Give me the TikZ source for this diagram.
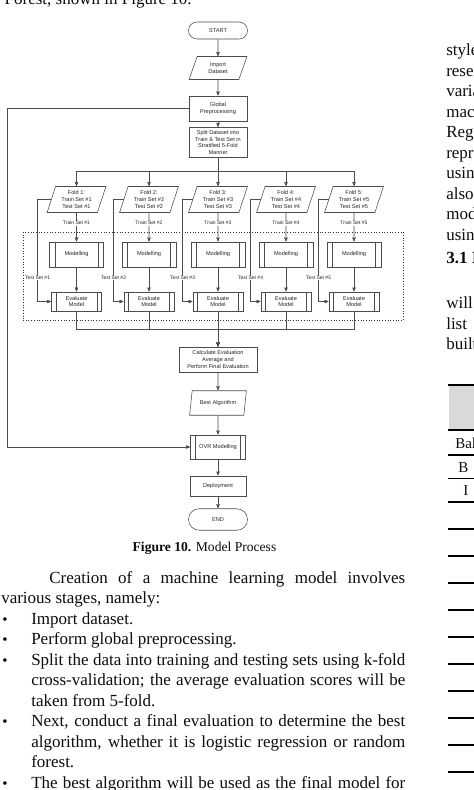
\documentclass[tikz,border=0pt]{standalone}
\usepackage{fontspec}
\setmainfont{Liberation Serif}
\setsansfont{Liberation Sans}
\usetikzlibrary{arrows,shapes.geometric}

\newcommand{\bodysize}{\fontsize{17}{20.5}\selectfont}
\newcommand{\boxsize}{\sffamily\fontsize{5.6}{6.9}\selectfont}
\newcommand{\just}[2]{\makebox[#1pt][s]{#2}}

\begin{document}
\begin{tikzpicture}[x=1pt,y=-1pt,>=stealth',shorten >=0.3pt,
    line width=0.55pt,color=black!70,node distance=40pt,
    main node/.style={rectangle,draw,font=\boxsize,text=black!85,
      align=center,inner sep=0pt,minimum width=58pt,minimum height=25pt},
    term node/.style={main node,rounded corners=8.5pt,minimum width=59pt,
      minimum height=17pt},
    io node/.style={main node,trapezium,trapezium stretches=true,
      trapezium left angle=71,trapezium right angle=109,minimum height=26pt},
    fold node/.style={io node,minimum width=59pt},
    sub node/.style={main node,minimum width=54pt},
    eval node/.style={sub node,minimum width=50pt,minimum height=19pt},
    tag node/.style={fill=white,inner sep=0.6pt,text=black!85,
      font=\sffamily\fontsize{5}{6}\selectfont},
    page text/.style={font=\bodysize,text=black!95,anchor=base west,
      inner sep=0pt},
    dot text/.style={page text,font=\fontsize{15}{17}\selectfont}]

  \useasboundingbox[fill=white] (0,0) rectangle (474,790);

  \node[draw=black!80,dotted,line width=0.7pt,minimum width=380pt,
    minimum height=88pt,inner sep=0pt] (Loop) at (213,276) {};

  \node[term node] (Start) at (218,30.5) {START};
  \node[io node,minimum height=23pt] (Import) [node distance=37.5pt,below of=Start] {Import\\Dataset};
  \node[main node] (Global) [node distance=40.5pt,below of=Import] {Global\\Preprocessing};
  \node[main node,minimum height=30pt] (Split) [node distance=34pt,below of=Global]
    {Split Dataset into\\Train \& Test Set in\\Stratified 5-Fold\\Manner};

  \node[fold node] (Fold3) [node distance=57pt,below of=Split] {Fold 3:\\Train Set \#3\\Test Set \#3};
  \node[fold node] (Fold2) [node distance=69pt,left of=Fold3] {Fold 2:\\Train Set \#2\\Test Set \#2};
  \node[fold node] (Fold1) [node distance=72.5pt,left of=Fold2] {Fold 1:\\Train Set \#1\\Test Set \#1};
  \node[fold node] (Fold4) [node distance=68pt,right of=Fold3] {Fold 4:\\Train Set \#4\\Test Set \#4};
  \node[fold node] (Fold5) [node distance=68pt,right of=Fold4] {Fold 5:\\Train Set \#5\\Test Set \#5};

  \node[sub node] (Model1) [node distance=55pt,below of=Fold1] {Modelling};
  \node[sub node] (Model2) [node distance=55pt,below of=Fold2] {Modelling};
  \node[sub node] (Model3) [node distance=55pt,below of=Fold3] {Modelling};
  \node[sub node] (Model4) [node distance=55pt,below of=Fold4] {Modelling};
  \node[sub node] (Model5) [node distance=55pt,below of=Fold5] {Modelling};

  \node[eval node] (Eval1) [node distance=47pt,below of=Model1] {Evaluate\\Model};
  \node[eval node] (Eval2) [node distance=47pt,below of=Model2] {Evaluate\\Model};
  \node[eval node] (Eval3) [node distance=47pt,below of=Model3] {Evaluate\\Model};
  \node[eval node] (Eval4) [node distance=47pt,below of=Model4] {Evaluate\\Model};
  \node[eval node] (Eval5) [node distance=47pt,below of=Model5] {Evaluate\\Model};

  \node[main node,minimum width=78pt] (Calc) [node distance=58pt,below of=Eval3]
    {Calculate Evaluation\\Average and\\Perform Final Evaluation};
  \node[io node,minimum width=57pt,minimum height=24.5pt] (Best) [node distance=43.5pt,below of=Calc] {Best Algorithm};
  \node[sub node,minimum width=55pt,minimum height=24pt] (OVR) [node distance=44pt,below of=Best] {OVR Modelling};
  \node[main node,minimum width=56pt,minimum height=20pt] (Deploy) [node distance=39pt,below of=OVR] {Deployment};
  \node[term node,minimum height=21.5pt,rounded corners=10.7pt] (End) [node distance=33.5pt,below of=Deploy] {END};

  % side bars of the process boxes
  \draw ([xshift=6pt]Model1.north west) -- ([xshift=6pt]Model1.south west)
    ([xshift=-6pt]Model1.north east) -- ([xshift=-6pt]Model1.south east);
  \draw ([xshift=6pt]Model2.north west) -- ([xshift=6pt]Model2.south west)
    ([xshift=-6pt]Model2.north east) -- ([xshift=-6pt]Model2.south east);
  \draw ([xshift=6pt]Model3.north west) -- ([xshift=6pt]Model3.south west)
    ([xshift=-6pt]Model3.north east) -- ([xshift=-6pt]Model3.south east);
  \draw ([xshift=6pt]Model4.north west) -- ([xshift=6pt]Model4.south west)
    ([xshift=-6pt]Model4.north east) -- ([xshift=-6pt]Model4.south east);
  \draw ([xshift=6pt]Model5.north west) -- ([xshift=6pt]Model5.south west)
    ([xshift=-6pt]Model5.north east) -- ([xshift=-6pt]Model5.south east);
  \draw ([xshift=5pt]Eval1.north west) -- ([xshift=5pt]Eval1.south west)
    ([xshift=-5pt]Eval1.north east) -- ([xshift=-5pt]Eval1.south east);
  \draw ([xshift=5pt]Eval2.north west) -- ([xshift=5pt]Eval2.south west)
    ([xshift=-5pt]Eval2.north east) -- ([xshift=-5pt]Eval2.south east);
  \draw ([xshift=5pt]Eval3.north west) -- ([xshift=5pt]Eval3.south west)
    ([xshift=-5pt]Eval3.north east) -- ([xshift=-5pt]Eval3.south east);
  \draw ([xshift=5pt]Eval4.north west) -- ([xshift=5pt]Eval4.south west)
    ([xshift=-5pt]Eval4.north east) -- ([xshift=-5pt]Eval4.south east);
  \draw ([xshift=5pt]Eval5.north west) -- ([xshift=5pt]Eval5.south west)
    ([xshift=-5pt]Eval5.north east) -- ([xshift=-5pt]Eval5.south east);
  \draw ([xshift=5.5pt]OVR.north west) -- ([xshift=5.5pt]OVR.south west)
    ([xshift=-5.5pt]OVR.north east) -- ([xshift=-5.5pt]OVR.south east);

  \path[->]
    (Start) edge (Import)
    (Import) edge (Global)
    (Global) edge (Split)
    (Split) edge (Fold3)
    (Model1) edge (Eval1)
    (Model2) edge (Eval2)
    (Model3) edge (Eval3)
    (Model4) edge (Eval4)
    (Model5) edge (Eval5)
    (Eval3) edge (Calc)
    (Calc) edge (Best)
    (Best) edge (OVR)
    (OVR) edge (Deploy)
    (Deploy) edge (End);

  \path[->]
    (Fold1) edge node[tag node,pos=0.36] {Train Set \#1} (Model1)
    (Fold2) edge node[tag node,pos=0.36] {Train Set \#2} (Model2)
    (Fold3) edge node[tag node,pos=0.36] {Train Set \#3} (Model3)
    (Fold4) edge node[tag node,pos=0.36] {Train Set \#4} (Model4)
    (Fold5) edge node[tag node,pos=0.36] {Train Set \#5} (Model5);

  \draw[->] (Split.south) -- ++(0,13.5) -| (Fold1.north);
  \draw[->] (Split.south) -- ++(0,13.5) -| (Fold2.north);
  \draw[->] (Split.south) -- ++(0,13.5) -| (Fold4.north);
  \draw[->] (Split.south) -- ++(0,13.5) -| (Fold5.north);

  \draw[->] (Fold1.west) -- ++(-13.5,0) |- (Eval1.west) node[tag node,pos=0.385] {Test Set \#1};
  \draw[->] (Fold2.west) -- ++(-10,0) |- (Eval2.west) node[tag node,pos=0.385] {Test Set \#2};
  \draw[->] (Fold3.west) -- ++(-10,0) |- (Eval3.west) node[tag node,pos=0.385] {Test Set \#3};
  \draw[->] (Fold4.west) -- ++(-10,0) |- (Eval4.west) node[tag node,pos=0.385] {Test Set \#4};
  \draw[->] (Fold5.west) -- ++(-10,0) |- (Eval5.west) node[tag node,pos=0.385] {Test Set \#5};

  \draw[->] (Eval1.south) -- ++(0,18) -| (Calc.north);
  \draw[->] (Eval2.south) -- ++(0,18) -| (Calc.north);
  \draw[->] (Eval4.south) -- ++(0,18) -| (Calc.north);
  \draw[->] (Eval5.south) -- ++(0,18) -| (Calc.north);

  \draw[->] (Global.west) -- ++(-181,0) |- (OVR.west);

  % page text round the figure
  \node[page text,anchor=base east] (Above) at (192,4) {Forest, shown in Figure 10.};
  \node[page text,anchor=base,font=\fontsize{13.6}{16}\selectfont] (Caption) at (204.5,551)
    {\textbf{Figure 10.} Model Process};

  \node[page text] (Line1) at (49,583) {\just{356}{Creation of a machine learning model involves}};
  \node[page text] (Line2) at (1,603.5) {various stages, namely:};
  \node[page text] (Line3) at (31,624) {Import dataset.};
  \node[page text] (Line4) at (31,644.5) {Perform global preprocessing.};
  \node[page text] (Line5) at (31,665) {\just{374}{Split the data into training and testing sets using k-fold}};
  \node[page text] (Line6) at (31,685.5) {\just{374}{cross-validation; the average evaluation scores will be}};
  \node[page text] (Line7) at (31,706) {taken from 5-fold.};
  \node[page text] (Line8) at (31,726.5) {\just{374}{Next, conduct a final evaluation to determine the best}};
  \node[page text] (Line9) at (31,747) {\just{374}{algorithm, whether it is logistic regression or random}};
  \node[page text] (Line10) at (31,767.5) {forest.};
  \node[page text] (Line11) at (31,788) {\just{374}{The best algorithm will be used as the final model for}};

  \node[dot text] (Dot1) at (2,624) {\textbullet};
  \node[dot text] (Dot2) at (2,644.5) {\textbullet};
  \node[dot text] (Dot3) at (2,665) {\textbullet};
  \node[dot text] (Dot4) at (2,726.5) {\textbullet};
  \node[dot text] (Dot5) at (2,788) {\textbullet};

  % right column, cut by the page edge
  \node[page text] (Col1) at (446,55.5) {style};
  \node[page text] (Col2) at (446,76) {rese};
  \node[page text] (Col3) at (446,96.5) {varia};
  \node[page text] (Col4) at (446,117) {mac};
  \node[page text] (Col5) at (446,137.5) {Reg};
  \node[page text] (Col6) at (446,158) {repr};
  \node[page text] (Col7) at (446,178.5) {usin};
  \node[page text] (Col8) at (446,199) {also};
  \node[page text] (Col9) at (446,219.5) {mod};
  \node[page text] (Col10) at (446,240) {usin};
  \node[page text] (Head) at (446,263) {\textbf{3.1 I}};
  \node[page text] (Col11) at (446,308.5) {will};
  \node[page text] (Col12) at (446,329) {list};
  \node[page text] (Col13) at (446,349.5) {built};

  \fill[black!15] (449,385) rectangle (474,430);
  \draw[black,line width=1.3pt] (448,385) -- (474,385) (448,430) -- (474,430)
    (448,455) -- (474,455) (448,478.5) -- (474,478.5) (448,502) -- (474,502);
  \draw[black,line width=1.3pt] (448,529) -- (474,529) (448,556) -- (474,556)
    (448,583) -- (474,583) (448,610) -- (474,610) (448,637) -- (474,637)
    (448,664) -- (474,664) (448,691) -- (474,691) (448,718) -- (474,718)
    (448,745) -- (474,745) (448,772) -- (474,772);
  \node[page text,font=\fontsize{15}{17}\selectfont] (Row1) at (455,448) {Bal};
  \node[page text,font=\fontsize{15}{17}\selectfont] (Row2) at (458,472) {B};
  \node[page text,font=\fontsize{15}{17}\selectfont] (Row3) at (463,495) {I};
\end{tikzpicture}
\end{document}
